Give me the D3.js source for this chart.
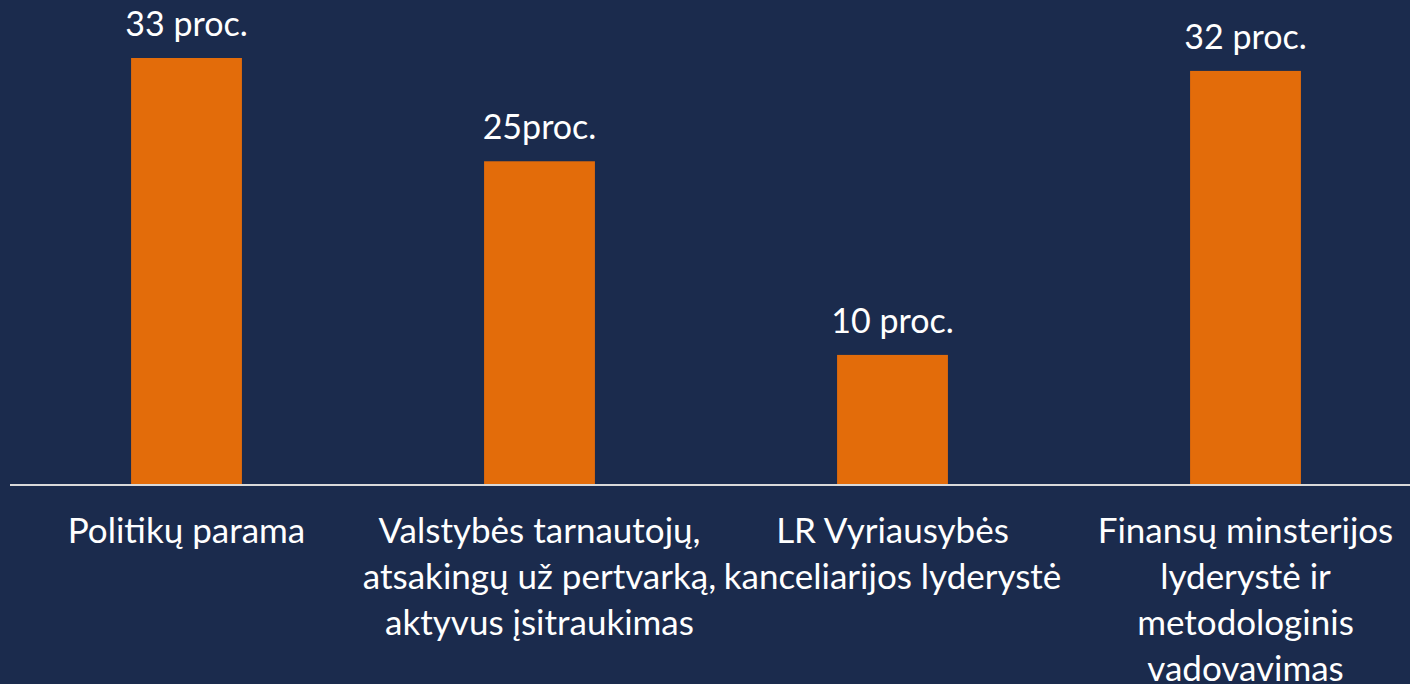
<!DOCTYPE html>
<html>
<head>
<meta charset="utf-8">
<script src="https://cdn.jsdelivr.net/npm/d3@7"></script>
<style>
  html, body { margin: 0; padding: 0; background: #1b2b4d; }
  text { font-family: Lato, "Open Sans", sans-serif; fill: #ffffff; }
</style>
</head>
<body>
<div id="chart-area"></div>
<script>
// data
var categories = ["Politikų parama", "Valstybės tarnautojų", "LR Vyriausybės", "Finansų minsterijos"];
var tickLabels = [
  ["Politikų parama"],
  ["Valstybės tarnautojų,", "atsakingų už pertvarką,", "aktyvus įsitraukimas"],
  ["LR Vyriausybės", "kanceliarijos lyderystė"],
  ["Finansų minsterijos", "lyderystė ir", "metodologinis", "vadovavimas"]
];
var values = [33, 25, 10, 32];
var valueLabels = ["33 proc.", "25proc.", "10 proc.", "32 proc."];

var width = 1410, height = 684;

var svg = d3.select("#chart-area").append("svg")
            .attr("width", width)
            .attr("height", height);

svg.append("rect")
   .attr("width", width)
   .attr("height", height)
   .attr("fill", "#1b2b4d");

var x = d3.scaleBand()
          .domain(categories)
          .range([10, 1422])
          .paddingInner(0.686)
          .paddingOuter(0.343);

var y = d3.scaleLinear()
          .domain([0, 33])
          .range([484, 58]);

// bars
svg.selectAll("rect.bar")
   .data(values)
   .enter()
   .append("rect")
     .attr("class", "bar")
     .attr("x", (d, i) => x(categories[i]))
     .attr("y", (d) => y(d))
     .attr("width", x.bandwidth())
     .attr("height", (d) => y(0) - y(d))
     .attr("fill", "#e36c0a");

// baseline
svg.append("line")
   .attr("x1", 10)
   .attr("x2", width)
   .attr("y1", y(0) + 1)
   .attr("y2", y(0) + 1)
   .attr("stroke", "#d9d9d9")
   .attr("stroke-width", 2);

// value labels
svg.selectAll("text.value")
   .data(values)
   .enter()
   .append("text")
     .attr("class", "value")
     .attr("x", (d, i) => x(categories[i]) + x.bandwidth() / 2)
     .attr("y", (d) => y(d) - 22)
     .attr("text-anchor", "middle")
     .style("font-size", "34px")
     .text((d, i) => valueLabels[i]);

// category labels
var lineH = 46;
var groups = svg.selectAll("text.cat")
   .data(tickLabels)
   .enter()
   .append("text")
     .attr("class", "cat")
     .attr("text-anchor", "middle")
     .style("font-size", "35px");

groups.selectAll("tspan")
   .data((d, i) => d.map((t) => ({ t: t, i: i })))
   .enter()
   .append("tspan")
     .attr("x", (d) => x(categories[d.i]) + x.bandwidth() / 2)
     .attr("y", (d, j) => 543 + j * lineH)
     .text((d) => d.t);
</script>
</body>
</html>
